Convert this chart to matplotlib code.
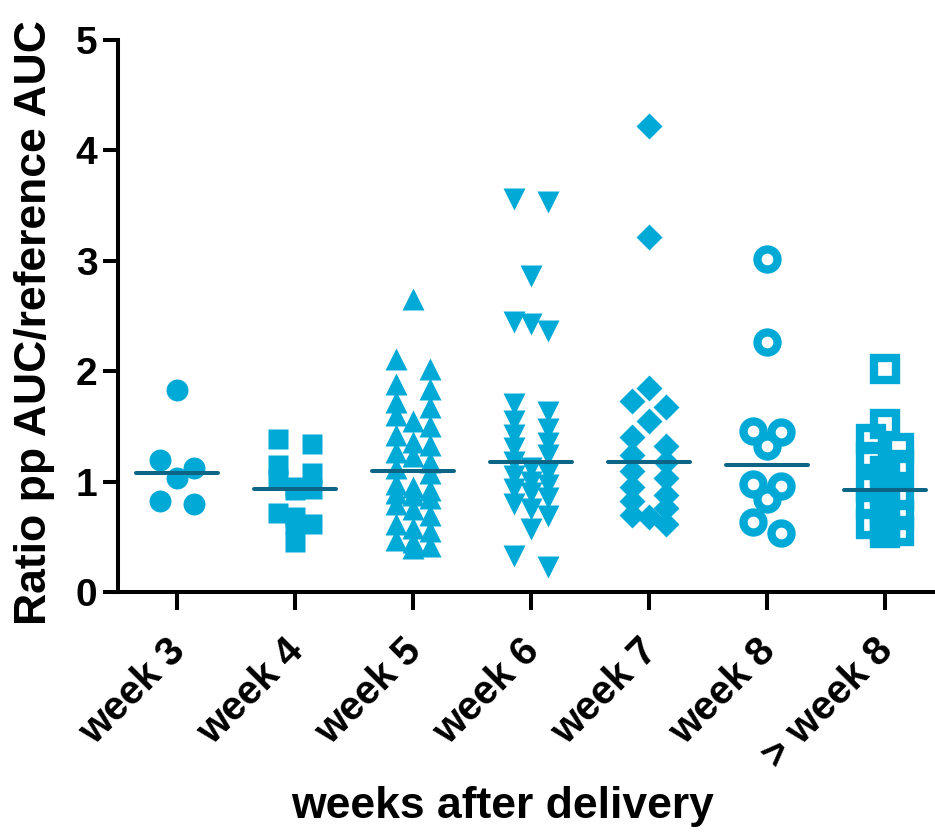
import numpy as np
import matplotlib
matplotlib.use("Agg")
import matplotlib.pyplot as plt
from matplotlib import transforms

plt.rcParams['font.family'] = ['Liberation Sans', 'DejaVu Sans']
plt.rcParams['font.weight'] = 'bold'

# ratio pp AUC / reference AUC per collection week
groups = ["week 3", "week 4", "week 5", "week 6", "week 7", "week 8", "> week 8"]
week3 = [1.83, 1.20, 1.12, 1.03, 0.82, 0.80]
week4 = [1.39, 1.34, 1.15, 1.08, 1.02, 0.95, 0.93, 0.92, 0.72, 0.68, 0.62, 0.62, 0.45]
week5 = [2.65, 2.11, 2.02, 1.88, 1.84, 1.72, 1.68, 1.60, 1.55, 1.50, 1.42, 1.36,
         1.33, 1.27, 1.23, 1.18, 1.12, 1.08, 0.98, 0.95, 0.92, 0.90, 0.88, 0.85,
         0.80, 0.75, 0.70, 0.62, 0.58, 0.55, 0.47, 0.45, 0.42, 0.40]
week6 = [3.56, 3.53, 2.86, 2.45, 2.43, 2.36, 1.70, 1.63, 1.55, 1.48, 1.42, 1.35,
         1.30, 1.24, 1.18, 1.12, 1.08, 1.05, 1.00, 0.97, 0.93, 0.90, 0.85, 0.80,
         0.75, 0.69, 0.57, 0.33, 0.23]
week7 = [4.22, 3.22, 1.85, 1.73, 1.68, 1.55, 1.40, 1.32, 1.24, 1.18, 1.10, 1.03,
         0.95, 0.88, 0.82, 0.76, 0.70, 0.68, 0.62]
week8 = [3.02, 2.26, 1.46, 1.45, 1.32, 0.98, 0.96, 0.84, 0.63, 0.53]
week_gt8 = [2.02, 1.52, 1.39, 1.30, 1.22, 1.15, 1.10, 0.95, 0.92, 0.88, 0.80,
            0.75, 0.70, 0.62, 0.58, 0.55, 0.53]
values = [week3, week4, week5, week6, week7, week8, week_gt8]

markers = ['o', 's', '^', 'v', 'D', 'o', 's']
filled = [True, True, True, True, True, False, False]
msizes = [15.8, 14.4, 15.8, 15.8, 13.7, 14.4, 15.5]
BLUE = '#00A9D6'
DARK = '#0D6586'

fig = plt.figure(figsize=(9.35, 8.32), dpi=100)
ax = fig.add_axes([118 / 935, 1 - 592 / 832, 826 / 935, 552 / 832])
ax.set_xlim(-0.5, 6.5)
ax.set_ylim(0, 5)

ROW_SLOTS = {1: [0], 2: [-1, 1], 3: [-1, 0, 1]}


def swarm(vals, gap_px, step):
    # group points that sit close in y into rows of up to three,
    # then spread each row symmetrically around the category centre
    ypx = ax.transData.transform(np.column_stack([np.zeros(len(vals)), vals]))[:, 1]
    order = list(np.argsort(-np.asarray(vals)))
    offsets = np.zeros(len(vals))
    rows, row = [], []
    for i in order:
        if row and (ypx[row[0]] - ypx[i] > gap_px or len(row) == 3):
            rows.append(row)
            row = []
        row.append(i)
    rows.append(row)
    for row in rows:
        for i, slot in zip(row, ROW_SLOTS[len(row)]):
            offsets[i] = slot * step
    return offsets


for i, vals in enumerate(values):
    size_px = msizes[i] / 0.72
    step = 0.12 if not filled[i] else 0.144
    x = i + swarm(vals, 0.6 * size_px, step)
    if filled[i]:
        ax.plot(x, vals, ls='none', marker=markers[i], ms=msizes[i],
                mfc=BLUE, mec='none', zorder=2)
    else:
        ax.plot(x, vals, ls='none', marker=markers[i], ms=msizes[i],
                mfc='none', mec=BLUE, mew=6.0, zorder=2)
    med = np.median(vals)
    ax.plot([i - 0.35, i + 0.35], [med, med], color=DARK, lw=2.9,
            solid_capstyle='round', zorder=3)

for side in ['top', 'right']:
    ax.spines[side].set_visible(False)
for side in ['left', 'bottom']:
    ax.spines[side].set_linewidth(2.9)

ax.set_yticks([0, 1, 2, 3, 4, 5])
ax.tick_params(axis='y', length=10.8, width=2.9, labelsize=28, pad=4)
ax.tick_params(axis='x', length=13, width=2.9, labelsize=29, pad=21)
ax.set_xticks(range(len(groups)))
ax.set_xticklabels(groups, rotation=45, ha='right', va='top', rotation_mode='anchor')
shift = transforms.ScaledTranslation(-11 / 100, 8 / 100, fig.dpi_scale_trans)
for lab in ax.get_xticklabels():
    lab.set_transform(lab.get_transform() + shift)

fig.text(35 / 935, 1 - 323 / 832, "Ratio pp AUC/reference AUC", rotation=90,
         ha='center', va='center', fontsize=32)
fig.text(503 / 935, 1 - 818 / 832, "weeks after delivery", ha='center',
         va='baseline', fontsize=32)

fig.savefig('out.png', dpi=100)
